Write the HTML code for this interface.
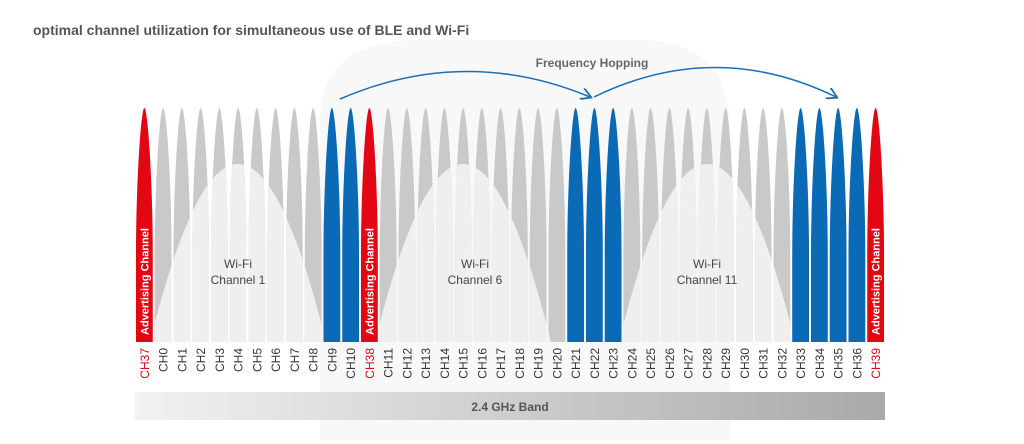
<!DOCTYPE html>
<html><head><meta charset="utf-8"><style>
body{margin:0;background:#fff;}
svg{display:block;font-family:"Liberation Sans",sans-serif;}
</style></head><body>
<svg id="s" width="1024" height="444" viewBox="0 0 1024 444" xmlns="http://www.w3.org/2000/svg">
<defs>
<linearGradient id="band" x1="0" x2="1" y1="0" y2="0"><stop offset="0" stop-color="#f2f2f2"/><stop offset="1" stop-color="#a9a9a9"/></linearGradient>
<clipPath id="lobes"></clipPath>
<marker id="ah" markerWidth="8" markerHeight="8" refX="6" refY="4" orient="auto"><path d="M0,0 L7,4 L0,8" fill="none" stroke="#1a6fb8" stroke-width="1.2"/></marker>
</defs>
<path d="M320,440 L320,120 Q320,40 420,40 L640,40 Q730,40 730,130 L730,440 Z" fill="#f8f8f8"/>
<text x="33" y="35" font-size="14" font-weight="bold" fill="#555">optimal channel utilization for simultaneous use of BLE and Wi-Fi</text>
<g id="gray"></g>
<g clip-path="url(#lobes)" fill="#efefef">
<path d="M150,342 C185,200 215,164 238,164 C261,164 291,200 326,342 Z"/>
<path d="M375,342 C410,200 440,164 463,164 C486,164 516,200 551,342 Z"/>
<path d="M619,342 C654,200 684,164 707,164 C730,164 760,200 795,342 Z"/>
</g>
<g id="col"></g>
<g id="lbl" font-size="12"></g>
<g font-size="12" fill="#444" text-anchor="middle">
<text x="238" y="268">Wi-Fi</text><text x="238" y="284">Channel 1</text>
<text x="475" y="268">Wi-Fi</text><text x="475" y="284">Channel 6</text>
<text x="707" y="268">Wi-Fi</text><text x="707" y="284">Channel 11</text>
</g>
<path d="M340,99 Q465,45 590,97" fill="none" stroke="#1a6fb8" stroke-width="1.5" marker-end="url(#ah)"/>
<path d="M594,97 Q715,38 836,97" fill="none" stroke="#1a6fb8" stroke-width="1.5" marker-end="url(#ah)"/>
<text x="592" y="67" font-size="12" font-weight="bold" fill="#666" text-anchor="middle">Frequency Hopping</text>
<rect x="135" y="392" width="750" height="28" fill="url(#band)"/>
<text x="510" y="411" font-size="12" font-weight="bold" fill="#555" text-anchor="middle">2.4 GHz Band</text>
</svg>
<script>
var names=["CH37"];for(var i=0;i<=10;i++)names.push("CH"+i);names.push("CH38");for(i=11;i<=36;i++)names.push("CH"+i);names.push("CH39");
var blue={CH9:1,CH10:1,CH21:1,CH22:1,CH23:1,CH33:1,CH34:1,CH35:1,CH36:1},red={CH37:1,CH38:1,CH39:1};
var NS="http://www.w3.org/2000/svg";
function el(t,a,p,txt){var e=document.createElementNS(NS,t);for(var k in a)e.setAttribute(k,a[k]);if(txt)e.textContent=txt;p.appendChild(e);return e;}
var g=document.getElementById("gray"),c=document.getElementById("col"),l=document.getElementById("lbl"),cg=document.getElementById("lobes");
names.forEach(function(n,i){
 var x=135+18.75*(i+0.5),w=8.4;
 var d="M"+(x-w)+",342 L"+(x-w)+",255 C"+(x-w)+",185 "+(x-3.5)+",108 "+x+",108 C"+(x+3.5)+",108 "+(x+w)+",185 "+(x+w)+",255 L"+(x+w)+",342 Z";
 var fill=red[n]?"#e30613":blue[n]?"#0a6ab6":"#c9c9c9";
 el("path",{d:d,fill:fill},(red[n]||blue[n])?c:g);
 el("path",{d:d},cg);
 el("text",{transform:"translate("+(x+4.5)+",348) rotate(-90)","text-anchor":"end",fill:red[n]?"#e30613":"#333"},l,n);
 if(red[n])el("text",{transform:"translate("+(x+4)+",335) rotate(-90)","font-size":"11","font-weight":"bold",fill:"#fff"},c,"Advertising Channel");
});
</script>
</body></html>
